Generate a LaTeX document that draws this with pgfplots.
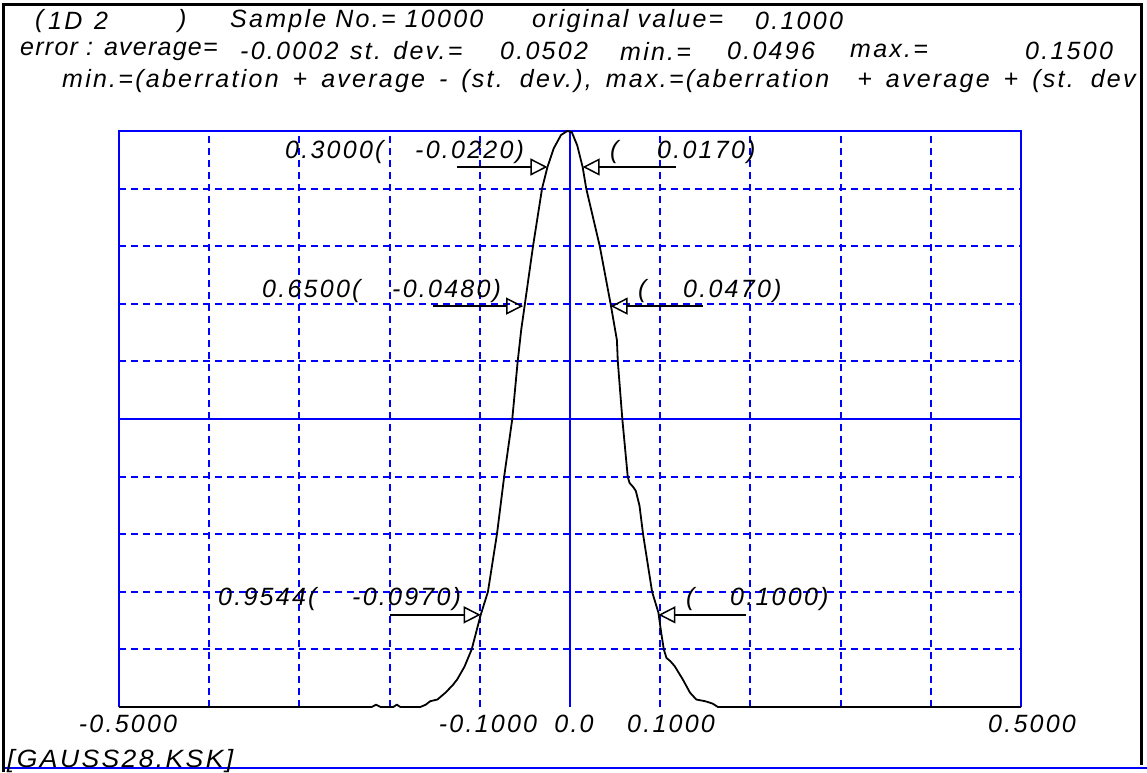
\documentclass[border=0pt]{standalone}
\usepackage{fontspec}
\setmainfont{Liberation Sans}[LetterSpace=9]
\usepackage{pgfplots}
\pgfplotsset{compat=1.18}
\usetikzlibrary{arrows.meta}
\newcommand{\tx}{\fontsize{25pt}{30pt}\selectfont\itshape}
\begin{document}
\begin{tikzpicture}[x=1pt,y=1pt]
\useasboundingbox (0,0) rectangle (1147,772);
\begin{axis}[at={(119pt,65pt)}, anchor=south west, scale only axis,
  width=902pt, height=576pt, xmin=-0.5, xmax=0.5, ymin=0, ymax=1,
  xtick={-0.4,-0.3,-0.2,-0.1,0.1,0.2,0.3,0.4},
  ytick={0.1,0.2,0.3,0.4,0.6,0.7,0.8,0.9},
  xticklabels={}, yticklabels={}, major tick length=0pt,
  grid=major, major grid style={draw=blue, color=blue, line width=1.9pt, dash pattern=on 7pt off 5pt},
  axis line style={draw=none}, clip=false]
% frame of the plot area (bottom is covered by the curve)
\addplot[draw=blue, line width=1.9pt, line join=miter] coordinates {(-0.5,0) (-0.5,1) (0.5,1) (0.5,0)};
\addplot[draw=blue, line width=1.9pt] coordinates {(0,0) (0,1)};
\addplot[draw=blue, line width=1.9pt] coordinates {(-0.5,0.5) (0.5,0.5)};
% distribution curve
\addplot[black, line width=1.8pt, line join=round] coordinates {
(-0.5,0) (-0.22,0) (-0.215,0.004) (-0.21,0) (-0.196,0) (-0.192,0.004) (-0.188,0)
(-0.166,0) (-0.16,0.004) (-0.155,0.01) (-0.147,0.013) (-0.138,0.025) (-0.13,0.038)
(-0.125,0.048) (-0.117,0.07) (-0.109,0.1) (-0.104,0.13) (-0.099,0.16) (-0.091,0.2)
(-0.081,0.3) (-0.073,0.4) (-0.064,0.5) (-0.058,0.6) (-0.054,0.656) (-0.05,0.7)
(-0.041,0.8) (-0.031,0.9) (-0.025,0.9375) (-0.018,0.97) (-0.01,0.993) (-0.003,1.0)
(0.002,0.998) (0.008,0.975) (0.014,0.9375) (0.018,0.9) (0.033,0.8) (0.045,0.7)
(0.052,0.637) (0.053,0.6) (0.058,0.5) (0.064,0.4) (0.066,0.389) (0.07,0.382)
(0.073,0.375) (0.077,0.35) (0.081,0.3) (0.091,0.2) (0.098,0.164) (0.101,0.13)
(0.104,0.1) (0.107,0.085) (0.111,0.08) (0.116,0.071) (0.125,0.048) (0.133,0.025)
(0.14,0.013) (0.15,0.01) (0.158,0.006) (0.164,0) (0.5,0)};
% arrows
\pgfplotsset{arr/.style={black, line width=1.5pt, -{Triangle[open,length=17pt,width=17pt,line width=1.5pt]}}}
\addplot[arr] coordinates {(-0.125,0.9375) (-0.025,0.9375)};
\addplot[arr] coordinates {(0.117,0.9375) (0.014,0.9375)};
\addplot[arr] coordinates {(-0.152,0.696) (-0.052,0.696)};
\addplot[arr] coordinates {(0.147,0.696) (0.045,0.696)};
\addplot[arr] coordinates {(-0.2,0.16) (-0.099,0.16)};
\addplot[arr] coordinates {(0.195,0.16) (0.098,0.16)};
\end{axis}
\begin{scope}[shift={(0,772)}, yscale=-1]
% frame
\draw[black, line width=3pt] (3.5,772) -- (3.5,4.5) -- (1141.5,4.5) -- (1141.5,765);
\draw[blue, line width=2.5pt] (5,768) -- (1147,768);
% titles
\tikzset{t/.style={anchor=west, inner sep=0pt, font=\tx}}
\node[t] at (35,21) {(};
\node[t] at (48,21) {1D};
\node[t] at (94,21) {2};
\node[t] at (178,21) {)};
\node[t] at (230,21) {Sample No.= 10000};
\node[t] at (532,21) {original value=};
\node[t] at (755,21) {0.1000};
\node[t] at (20,51) {\addfontfeature{LetterSpace=5}error : average=};
\node[t] at (240,51) {-0.0002};
\node[t] at (350,51) {st. dev.=};
\node[t] at (500,51) {0.0502};
\node[t] at (620,51) {min.=};
\node[t] at (727,51) {0.0496};
\node[t] at (850,51) {max.=};
\node[t] at (1025,51) {0.1500};
\node[t] at (62,81) {\spaceskip=14pt min.=(aberration + average - (st. dev.), max.=(aberration \ + average + (st. dev};
% annotations
\node[t] at (285,152) {0.3000(};
\node[t] at (415,152) {-0.0220)};
\node[t] at (610,152) {(};
\node[t] at (657,152) {0.0170)};
\node[t] at (262,291) {0.6500(};
\node[t] at (392,291) {-0.0480)};
\node[t] at (638,291) {(};
\node[t] at (683,291) {0.0470)};
\node[t] at (218,599) {0.9544(};
\node[t] at (352,599) {-0.0970)};
\node[t] at (686,599) {(};
\node[t] at (730,599) {0.1000)};
% x labels
\tikzset{c/.style={anchor=center, inner sep=0pt, font=\tx}}
\node[c] at (128,724) {-0.5000};
\node[c] at (488,724) {-0.1000};
\node[c] at (574,724) {0.0};
\node[c] at (671,724) {0.1000};
\node[c] at (1032,724) {0.5000};
\node[t] at (7,761) {\scalebox{1.06}[1]{[GAUSS28.KSK]}};
\end{scope}
\end{tikzpicture}
\end{document}
